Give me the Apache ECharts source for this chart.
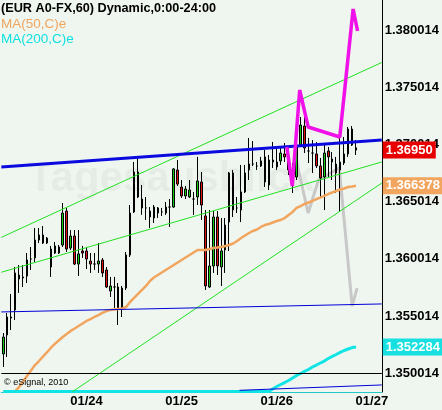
<!DOCTYPE html>
<html><head><meta charset="utf-8">
<script src="https://cdn.jsdelivr.net/npm/echarts@6/dist/echarts.min.js"></script>
<style>html,body{margin:0;padding:0;background:#eff6ef}#c{width:442px;height:410px}</style>
</head><body><div id="c"></div>
<script>
// ---- data (EUR/USD hourly) ----
const firstBar = {month: '01', day: 23, hour: 3};
const slotCount = 96;
const yRange = [1.348353, 1.382618];
const tickStep = 0.005;
const tickOffset = 0.000014;

const open = [1.35168,1.35334,1.35482,1.35552,1.35858,1.35841,1.35849,1.35998,1.36007,1.36164,
1.36208,1.36138,1.35928,1.36050,1.36050,1.36120,1.36417,1.36094,1.36199,1.35954,
1.36068,1.36068,1.35980,1.35954,1.35954,1.35989,1.35902,1.35718,1.35753,1.35753,
1.35570,1.35744,1.36033,1.36409,1.36758,1.36522,1.36444,1.36417,1.36356,1.36444,
1.36409,1.36400,1.36452,1.36452,1.36776,1.36627,1.36549,1.36540,1.36522,1.36540,
1.36671,1.36374,1.35753,1.35937,1.36365,1.35928,1.36077,1.36321,1.36750,1.36444,
1.36426,1.36584,1.36776,1.36828,1.36811,1.36811,1.36890,1.36645,1.36863,1.36846,
1.36855,1.36916,1.36881,1.36750,1.36715,1.36994,1.37160,1.36942,1.36924,1.36916,
1.36811,1.36715,1.36942,1.36872,1.36828,1.36776,1.36837,1.36916,1.37134,1.36970];
const close = [1.35316,1.35491,1.35491,1.35876,1.35823,1.35832,1.35989,1.35998,1.36164,1.36208,
1.36138,1.36181,1.36085,1.36112,1.36103,1.36400,1.36085,1.36199,1.35954,1.36042,
1.36050,1.35998,1.35954,1.35954,1.35980,1.35876,1.35753,1.35762,1.35753,1.35570,
1.35744,1.36033,1.36400,1.36758,1.36540,1.36444,1.36444,1.36365,1.36452,1.36400,
1.36409,1.36452,1.36452,1.36785,1.36653,1.36549,1.36610,1.36601,1.36522,1.36680,
1.36470,1.35762,1.35937,1.36365,1.35937,1.36068,1.36295,1.36750,1.36426,1.36444,
1.36584,1.36750,1.36828,1.36828,1.36811,1.36855,1.36671,1.36863,1.36846,1.36802,
1.36924,1.36890,1.36776,1.36732,1.36986,1.37169,1.36968,1.36942,1.36924,1.36811,
1.36706,1.36924,1.36890,1.36846,1.36750,1.36846,1.36916,1.37134,1.36994,1.36950];
const high = [1.35351,1.35526,1.35692,1.35928,1.35945,1.35945,1.36050,1.36103,1.36269,1.36269,
1.36286,1.36190,1.36112,1.36147,1.36120,1.36487,1.36444,1.36251,1.36251,1.36251,
1.36112,1.36103,1.36050,1.36050,1.36138,1.36007,1.35928,1.35841,1.35841,1.35788,
1.35762,1.36059,1.36470,1.36846,1.36881,1.36645,1.36540,1.36452,1.36470,1.36452,
1.36444,1.36496,1.36522,1.36793,1.36863,1.36688,1.36636,1.36688,1.36584,1.36890,
1.36758,1.36426,1.36426,1.36417,1.36417,1.36356,1.36356,1.36758,1.36776,1.36540,
1.36820,1.36820,1.37056,1.37029,1.36846,1.36890,1.36951,1.36907,1.37021,1.36977,
1.36977,1.37012,1.36977,1.36837,1.37082,1.37239,1.37239,1.37056,1.37038,1.37021,
1.36881,1.37012,1.36977,1.36933,1.36890,1.37099,1.37064,1.37152,1.37160,1.37038];
const low = [1.35054,1.35141,1.35377,1.35465,1.35701,1.35753,1.35788,1.35902,1.35972,1.36138,
1.36129,1.36129,1.35841,1.36042,1.36042,1.36103,1.36059,1.36077,1.35945,1.35849,
1.36007,1.35910,1.35876,1.35902,1.35876,1.35841,1.35744,1.35666,1.35570,1.35421,
1.35491,1.35727,1.36015,1.36400,1.36531,1.36383,1.36339,1.36269,1.36313,1.36356,
1.36374,1.36383,1.36278,1.36444,1.36636,1.36531,1.36522,1.36531,1.36383,1.36470,
1.36339,1.35727,1.35744,1.35876,1.35858,1.35762,1.35876,1.36068,1.36365,1.36400,
1.36321,1.36575,1.36688,1.36811,1.36776,1.36802,1.36627,1.36601,1.36793,1.36776,
1.36820,1.36846,1.36732,1.36575,1.36688,1.36977,1.36924,1.36837,1.36750,1.36793,
1.36540,1.36426,1.36715,1.36688,1.36575,1.36409,1.36820,1.36890,1.36986,1.36907];

const ma50 = [1.34840,1.34840,1.34840,1.34844,1.34879,1.34927,1.34975,1.35023,1.35071,1.35106,
1.35144,1.35182,1.35220,1.35255,1.35286,1.35316,1.35342,1.35369,1.35390,1.35412,
1.35434,1.35456,1.35473,1.35491,1.35508,1.35526,1.35543,1.35552,1.35557,1.35561,
1.35565,1.35578,1.35622,1.35657,1.35692,1.35727,1.35762,1.35806,1.35836,1.35858,
1.35880,1.35902,1.35924,1.35945,1.35967,1.35989,1.36011,1.36033,1.36055,1.36077,
1.36077,1.36077,1.36085,1.36094,1.36098,1.36103,1.36112,1.36120,1.36133,1.36155,
1.36181,1.36203,1.36225,1.36243,1.36256,1.36278,1.36295,1.36304,1.36317,1.36330,
1.36339,1.36356,1.36383,1.36409,1.36444,1.36461,1.36479,1.36492,1.36505,1.36522,
1.36535,1.36549,1.36566,1.36579,1.36592,1.36605,1.36614,1.36627,1.36632,1.366378];
const ma200 = [1.34840,1.34840,1.34840,1.34840,1.34840,1.34840,1.34840,1.34840,1.34840,1.34840,
1.34840,1.34840,1.34840,1.34840,1.34840,1.34840,1.34840,1.34840,1.34840,1.34840,
1.34840,1.34840,1.34840,1.34840,1.34840,1.34840,1.34840,1.34840,1.34840,1.34840,
1.34840,1.34840,1.34840,1.34840,1.34840,1.34840,1.34840,1.34840,1.34840,1.34840,
1.34840,1.34840,1.34840,1.34840,1.34840,1.34840,1.34840,1.34840,1.34840,1.34840,
1.34840,1.34840,1.34840,1.34840,1.34840,1.34840,1.34840,1.34840,1.34840,1.34840,
1.34840,1.34840,1.34840,1.34840,1.34840,1.34840,1.34840,1.34840,1.34862,1.34883,
1.34901,1.34918,1.34936,1.34958,1.34980,1.34997,1.35015,1.35032,1.35054,1.35071,
1.35089,1.35106,1.35128,1.35146,1.35163,1.35181,1.35198,1.35211,1.35224,1.352284];

// drawn lines: [bar position, price]
const blueTrend = [[-0.5, 1.36803], [95.5, 1.37038]];
const blueLevel1 = [[-0.5, 1.35535], [95.5, 1.35605]];
const blueLevel2 = [[59.6, 1.34850], [95.5, 1.34897]];
const greenUpper = [[-0.5, 1.36187], [95.5, 1.37716]];
const greenMiddle = [[-0.5, 1.35882], [95.5, 1.36846]];
const greenLower = [[17.47, 1.34838], [95.5, 1.36662]];
const magentaPath = [[71.55,1.36977],[72.92,1.36636],[74.79,1.37475],[76.92,1.37152],[84.90,1.37064],[88.27,1.38183],[89.39,1.37991]];
const greyPath = [[73.8,1.36881],[76.92,1.36400],[79.54,1.36688],[84.78,1.36793],[88.02,1.35587],[89.27,1.35744]];
const levelLine = 1.350014;

// ---- build ----
const categories = [];
for (let i = 0; i < slotCount; i++) {
  const h = firstBar.hour + i;
  const d = firstBar.day + Math.floor(h / 24);
  categories.push(firstBar.month + '/' + d + ' ' + String(h % 24).padStart(2, '0') + ':00');
}
const candles = open.map((o, i) => [o, close[i], low[i], high[i]]);

const chart = echarts.init(document.getElementById('c'));
const lineSeries = (data, color, width, z) => ({
  type: 'line', xAxisIndex: 1, yAxisIndex: 0, data, showSymbol: false, symbol: 'none',
  silent: true, animation: false, z, lineStyle: {color, width}, clip: true
});
const font = 'Liberation Sans, Arial, sans-serif';

chart.setOption({
  backgroundColor: '#eff6ef',
  animation: false,
  grid: {left: 1.3, right: 56, top: 0, bottom: 18},
  xAxis: [{
    type: 'category', data: categories, boundaryGap: true,
    axisLine: {show: true, onZero: false, lineStyle: {color: '#22c8c8', width: 1}},
    axisTick: {show: false}, splitLine: {show: false},
    axisLabel: {
      interval: (idx, val) => val.endsWith(' 00:00'),
      formatter: v => v.slice(0, 5),
      color: '#000', fontWeight: 'bold', fontSize: 13, fontFamily: font, margin: 3
    }
  }, {
    type: 'value', min: -0.5, max: slotCount - 0.5, show: false,
    axisLine: {show: false, onZero: false}
  }],
  yAxis: {
    type: 'value', position: 'right', min: yRange[0], max: yRange[1],
    minInterval: tickStep, maxInterval: tickStep,
    axisLine: {show: true, onZero: false, lineStyle: {color: '#000', width: 1}},
    axisTick: {show: false}, splitLine: {show: false},
    axisLabel: {
      margin: 3, color: '#000', fontWeight: 'bold', fontSize: 13, fontFamily: font,
      formatter: v => { const k = v / tickStep; return Math.abs(k - Math.round(k)) < 1e-4 ? (v + tickOffset).toFixed(6) : ''; }
    }
  },
  series: [
    lineSeries(greyPath, '#c8c8c8', 3, 1),
    {
      type: 'candlestick', xAxisIndex: 0, yAxisIndex: 0, data: candles, barWidth: 2, z: 2,
      itemStyle: {color: '#11cc11', color0: '#dd1111', borderColor: '#000', borderColor0: '#000', borderColorDoji: '#000', borderWidth: 1},
      markLine: {silent: true, symbol: 'none', label: {show: false},
        lineStyle: {color: '#000', width: 1, type: 'solid'}, data: [{yAxis: levelLine}]}
    },
    {type: 'line', xAxisIndex: 0, yAxisIndex: 0, data: ma50, showSymbol: false, symbol: 'none', z: 3,
      lineStyle: {color: '#f2a55e', width: 2.5}},
    {type: 'line', xAxisIndex: 0, yAxisIndex: 0, data: ma200, showSymbol: false, symbol: 'none', z: 3,
      lineStyle: {color: '#10e4e4', width: 3}},
    lineSeries(greenUpper, '#22e022', 1, 3),
    lineSeries(greenMiddle, '#22e022', 1, 3),
    lineSeries(greenLower, '#22e022', 1, 3),
    lineSeries(blueLevel1, '#0000d8', 1, 3),
    lineSeries(blueLevel2, '#0000d8', 1, 3),
    lineSeries(blueTrend, '#0a0ae0', 3, 4),
    lineSeries(magentaPath, '#f011e8', 3.5, 5)
  ]
});

// value tags on the price axis
const tags = [
  {value: close[close.length - 1], digits: 5, bg: '#e80000'},
  {value: ma50[ma50.length - 1], digits: 6, bg: '#f2a55e'},
  {value: ma200[ma200.length - 1], digits: 6, bg: '#18e0e0'}
];
const gridRight = chart.convertToPixel({xAxisIndex: 1}, slotCount - 0.5);
const graphics = [
  {type: 'text', left: 28, top: 158, z: 0, silent: true,
    style: {text: 'Tagesausblick', font: 'bold 42px ' + font, fill: 'rgba(0,0,0,0.04)'}},
  {type: 'text', left: 1, top: 2, z: 20, style: {text: '(EUR A0-FX,60) Dynamic,0:00-24:00', font: 'bold 12.7px ' + font, fill: '#000'}},
  {type: 'text', left: 1, top: 17, z: 20, style: {text: 'MA(50,C)e', font: '13.5px ' + font, fill: '#f2a55e'}},
  {type: 'text', left: 1, top: 32, z: 20, style: {text: 'MA(200,C)e', font: '13.5px ' + font, fill: '#10e0e0'}},
  {type: 'text', left: 4, top: 378, z: 20, style: {text: '\u00a9 eSignal, 2010', font: '9px ' + font, fill: '#000'}}
];
tags.forEach(t => {
  const y = chart.convertToPixel({yAxisIndex: 0}, t.value);
  graphics.push({type: 'text', x: gridRight + 1, y: y, z: 30,
    style: {text: t.value.toFixed(t.digits), font: 'bold 13px ' + font, fill: '#fff',
      backgroundColor: t.bg, padding: [2, 3, 2, 3], verticalAlign: 'middle', align: 'left'}});
});
chart.setOption({graphic: graphics});
</script></body></html>
